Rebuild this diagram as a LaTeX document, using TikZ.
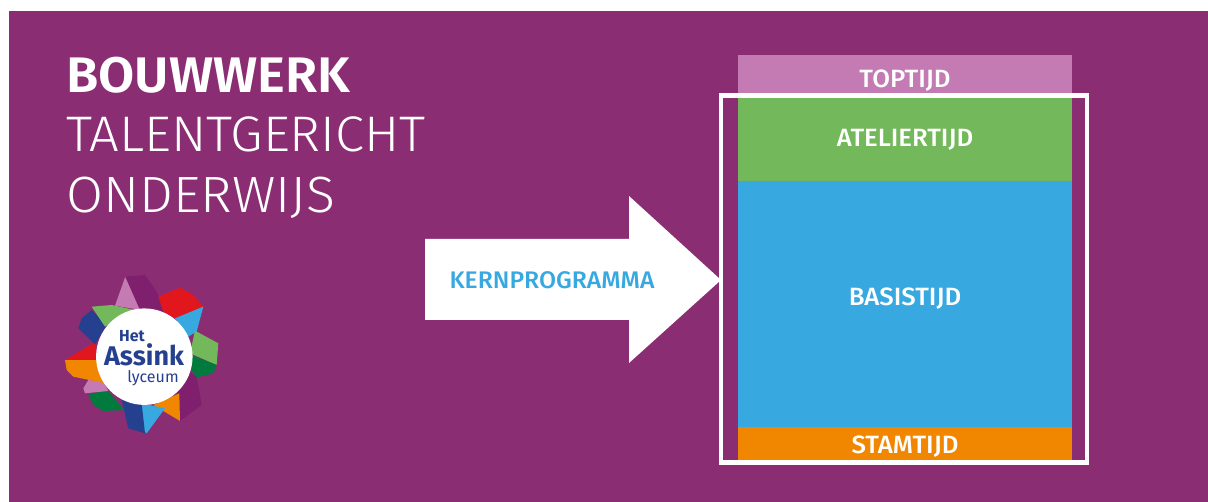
\documentclass[tikz,border=0pt]{standalone}
\usepackage{fontspec}
\setmainfont{Fira Sans}
\newfontfamily\lichtfont[FakeStretch=1.05]{Fira Sans Light}
\newfontfamily\halffont[FakeStretch=1.03]{Fira Sans Medium}
\newfontfamily\kopfont[FakeStretch=1.05]{Fira Sans SemiBold}
\usepackage{tikz}
\usetikzlibrary{calc,positioning}
\definecolor{paars}{HTML}{8A2D73}
\definecolor{dpaars}{HTML}{7F1F6E}
\definecolor{roze}{HTML}{C47BB3}
\definecolor{groen}{HTML}{73B85A}
\definecolor{blauw}{HTML}{37A8E0}
\definecolor{oranje}{HTML}{F18700}
\definecolor{navy}{HTML}{25408F}
\definecolor{rood}{HTML}{E2171E}
\definecolor{dgroen}{HTML}{007A3D}
\begin{document}
\begin{tikzpicture}[x=1pt,y=-1pt]
\tikzstyle{blok}=[rectangle, inner sep=0pt, outer sep=0pt, minimum width=334pt]
\tikzstyle{bloktekst}=[inner sep=0pt, text=white, font=\halffont\fontsize{25}{25}\selectfont]
\tikzstyle{kop}=[anchor=base west, inner sep=0pt, text=white]
\tikzstyle{lijn}=[white, line width=4.5pt]
\useasboundingbox (0,0) rectangle (1208,502);
\fill[paars] (9,11) rectangle (1208,502);
%titel
\node[kop, font=\kopfont\fontsize{50}{50}\selectfont] (bouwwerk) at (66,92.5) {BOUWWERK};
\node[kop, font=\lichtfont\fontsize{50}{50}\selectfont] (talent) at (66,152) {TALENTGERICHT};
\node[kop, font=\lichtfont\fontsize{51}{51}\selectfont] (onderwijs) at (66,213) {ONDERWIJS};
%blokken
\foreach \naam/\y/\h/\kleur/\ty/\tekst in {top/76/42/roze/80.5/TOPTIJD,atelier/139/84/groen/140/ATELIERTIJD,basis/304/246/blauw/299/BASISTIJD,stam/443.5/33/oranje/447/STAMTIJD}{
\node[blok, fill=\kleur, minimum height=\h pt] (\naam) at (905,\y) {};
\node[bloktekst] (\naam tekst) at (905,\ty) {\tekst};}
\draw[lijn] (721,95.5) rectangle (1087,462.5);
%pijl
\fill[white] (425,239) -- (629,239) -- (629,196) -- (721,280) -- (629,363) -- (629,320) -- (425,320) -- cycle;
\node[font=\halffont\fontsize{24}{24}\selectfont, text=blauw, inner sep=0pt] (kern) at (552,280) {KERNPROGRAMMA};
%logo
\begin{scope}[shift={(50,265)}, x=.3333pt, y=-.3333pt]
\fill[roze] (226,35) -- (195,122) -- (272,135) -- cycle;
\fill[dpaars] (226,35) -- (285,30) -- (320,80) -- (348,145) -- (270,135) -- cycle;
\fill[rood] (325,95) -- (390,68) -- (430,90) -- (460,125) -- (375,160) -- (340,140) -- cycle;
\fill[blauw] (375,160) -- (460,125) -- (440,200) -- (415,215) -- cycle;
\fill[groen] (435,197) -- (505,235) -- (500,300) -- (420,265) -- cycle;
\fill[dgroen] (425,270) -- (500,300) -- (490,325) -- (440,337) -- (420,310) -- cycle;
\fill[dpaars] (420,320) -- (440,337) -- (455,420) -- (390,468) -- (380,380) -- cycle;
\fill[oranje] (388,385) -- (390,468) -- (310,420) -- cycle;
\fill[blauw] (275,415) -- (345,430) -- (290,505) -- (270,490) -- cycle;
\fill[navy] (215,405) -- (275,415) -- (285,505) -- (235,490) -- cycle;
\fill[dgroen] (115,388) -- (170,375) -- (225,435) -- (160,438) -- (130,420) -- cycle;
\fill[roze] (115,345) -- (160,350) -- (175,378) -- (105,385) -- (100,370) -- cycle;
\fill[oranje] (45,285) -- (145,285) -- (165,355) -- (70,335) -- (50,315) -- cycle;
\fill[rood] (45,285) -- (135,232) -- (145,285) -- cycle;
\fill[navy] (125,135) -- (170,180) -- (135,238) -- (85,190) -- (95,160) -- cycle;
\fill[groen] (125,125) -- (185,120) -- (255,135) -- (165,185) -- cycle;
\node[circle, fill=white, inner sep=0pt, minimum size=96.5pt] (schijf) at (283,275) {};
\end{scope}
\node[inner sep=0pt, text=navy, font=\bfseries\fontsize{16}{16}\selectfont] (het) at (132,336) {Het};
\node[inner sep=0pt, text=navy, font=\bfseries\fontsize{27}{27}\selectfont] (assink) at (144,355) {Assink};
\node[inner sep=0pt, text=navy, font=\fontsize{16}{16}\selectfont] (lyceum) at (153,378.5) {lyceum};
\end{tikzpicture}
\end{document}
